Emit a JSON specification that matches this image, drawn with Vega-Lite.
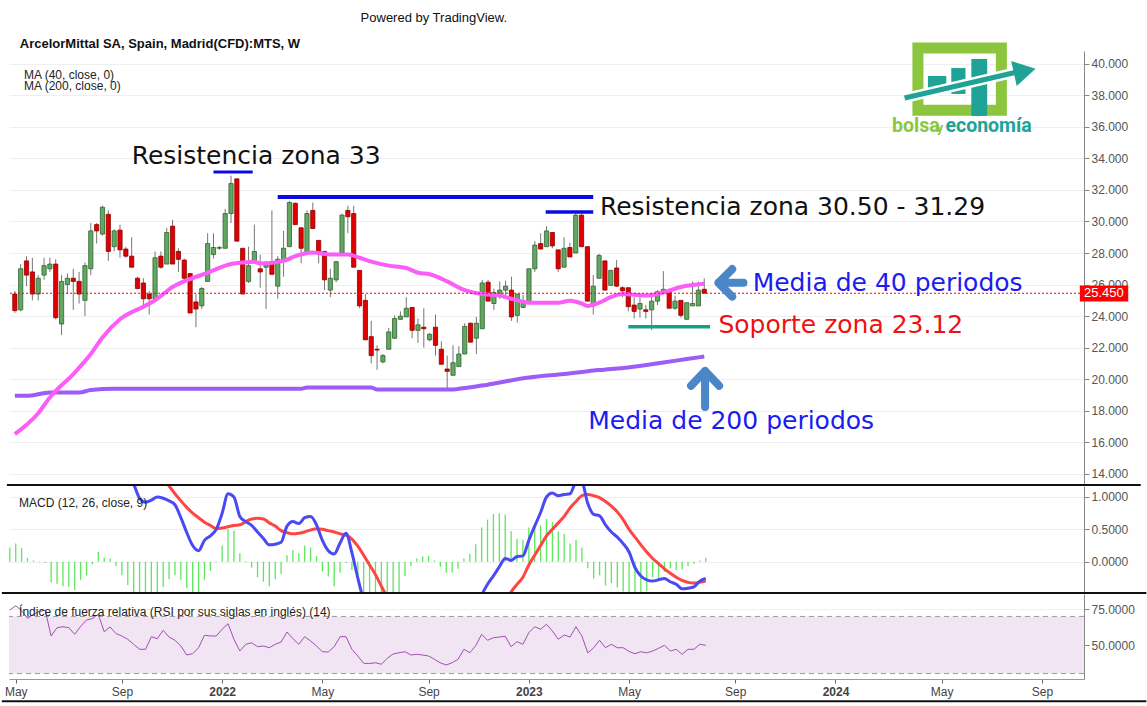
{
"$schema": "https://vega.github.io/schema/vega-lite/v6.json",
"background": "white",
"padding": {"left": 0, "top": 11, "right": 0, "bottom": 5},
"spacing": 0,
"config": {
  "view": {"stroke": null},
  "axis": {"labelFont": "Liberation Sans", "labelFontSize": 12, "labelColor": "#555555", "gridColor": "#efefef", "domainColor": "#888888", "tickColor": "#888888", "labelPadding": 2, "tickSize": 5, "title": null, "labelOverlap": false},
  "text": {"font": "Liberation Sans"}
},
"datasets": {
"w": [
{"d":"2021-04-26","o":25.4,"h":25.6,"l":24.2,"c":24.35,"macd":2.02,"sig":1.80,"hist":0.22,"rsi":74.5},
{"d":"2021-05-03","o":24.4,"h":27.3,"l":24.3,"c":27.0,"macd":2.13,"sig":1.85,"hist":0.28,"rsi":77.5},
{"d":"2021-05-10","o":27.5,"h":27.8,"l":25.9,"c":26.6,"macd":2.11,"sig":1.90,"hist":0.21,"rsi":74.0},
{"d":"2021-05-17","o":26.8,"h":27.7,"l":25.0,"c":25.4,"macd":2.01,"sig":1.95,"hist":0.06,"rsi":68.7},
{"d":"2021-05-24","o":25.4,"h":26.6,"l":25.0,"c":26.4,"macd":1.99,"sig":1.97,"hist":0.02,"rsi":71.5},
{"d":"2021-05-31","o":26.6,"h":27.7,"l":26.3,"c":27.2,"macd":1.97,"sig":1.98,"hist":-0.01,"rsi":73.5},
{"d":"2021-06-07","o":27.0,"h":27.7,"l":26.8,"c":27.3,"macd":1.96,"sig":1.98,"hist":-0.02,"rsi":74.3},
{"d":"2021-06-14","o":27.3,"h":27.6,"l":23.8,"c":23.9,"macd":1.63,"sig":1.95,"hist":-0.32,"rsi":56.3},
{"d":"2021-06-21","o":23.5,"h":26.6,"l":22.8,"c":26.2,"macd":1.58,"sig":1.92,"hist":-0.34,"rsi":62.1},
{"d":"2021-06-28","o":26.0,"h":26.7,"l":25.4,"c":26.4,"macd":1.50,"sig":1.88,"hist":-0.38,"rsi":62.8},
{"d":"2021-07-05","o":26.4,"h":27.0,"l":24.4,"c":26.2,"macd":1.45,"sig":1.84,"hist":-0.39,"rsi":62.1},
{"d":"2021-07-12","o":26.2,"h":26.8,"l":24.8,"c":25.4,"macd":1.36,"sig":1.80,"hist":-0.44,"rsi":57.5},
{"d":"2021-07-19","o":25.0,"h":27.4,"l":24.0,"c":27.2,"macd":1.50,"sig":1.78,"hist":-0.28,"rsi":63.0},
{"d":"2021-07-26","o":27.0,"h":29.9,"l":26.6,"c":29.4,"macd":1.56,"sig":1.77,"hist":-0.21,"rsi":67.5},
{"d":"2021-08-02","o":29.8,"h":29.9,"l":28.6,"c":29.4,"macd":1.73,"sig":1.77,"hist":-0.04,"rsi":68.5},
{"d":"2021-08-09","o":29.2,"h":31.0,"l":29.1,"c":30.9,"macd":1.93,"sig":1.78,"hist":0.15,"rsi":71.5},
{"d":"2021-08-16","o":30.45,"h":30.7,"l":27.5,"c":28.1,"macd":1.85,"sig":1.79,"hist":0.06,"rsi":59.3},
{"d":"2021-08-23","o":28.4,"h":29.5,"l":28.1,"c":29.4,"macd":1.85,"sig":1.80,"hist":0.05,"rsi":62.6},
{"d":"2021-08-30","o":29.45,"h":29.8,"l":27.7,"c":28.2,"macd":1.73,"sig":1.80,"hist":-0.07,"rsi":58.0},
{"d":"2021-09-06","o":28.25,"h":28.4,"l":27.7,"c":27.8,"macd":1.57,"sig":1.78,"hist":-0.21,"rsi":56.3},
{"d":"2021-09-13","o":27.8,"h":29.0,"l":27.1,"c":27.1,"macd":1.39,"sig":1.75,"hist":-0.36,"rsi":54.0},
{"d":"2021-09-20","o":26.4,"h":26.5,"l":25.7,"c":25.75,"macd":1.20,"sig":1.65,"hist":-0.55,"rsi":50.5},
{"d":"2021-09-27","o":26.1,"h":26.4,"l":24.5,"c":25.1,"macd":0.98,"sig":1.58,"hist":-0.6,"rsi":47.0},
{"d":"2021-10-04","o":25.4,"h":25.6,"l":24.1,"c":25.1,"macd":0.92,"sig":1.50,"hist":-0.6,"rsi":47.0},
{"d":"2021-10-11","o":25.1,"h":28.1,"l":25.1,"c":27.7,"macd":0.95,"sig":1.45,"hist":-0.6,"rsi":55.8},
{"d":"2021-10-18","o":27.8,"h":28.1,"l":27.0,"c":27.1,"macd":1.00,"sig":1.38,"hist":-0.55,"rsi":54.4},
{"d":"2021-10-25","o":27.3,"h":29.6,"l":27.3,"c":29.3,"macd":0.98,"sig":1.28,"hist":-0.39,"rsi":60.3},
{"d":"2021-11-01","o":29.7,"h":30.1,"l":27.3,"c":27.3,"macd":0.94,"sig":1.17,"hist":-0.27,"rsi":55.6},
{"d":"2021-11-08","o":28.1,"h":28.3,"l":26.8,"c":27.6,"macd":0.88,"sig":1.05,"hist":-0.21,"rsi":53.3},
{"d":"2021-11-15","o":27.55,"h":27.65,"l":26.2,"c":26.4,"macd":0.68,"sig":0.94,"hist":-0.28,"rsi":49.3},
{"d":"2021-11-22","o":26.7,"h":26.7,"l":24.2,"c":24.2,"macd":0.45,"sig":0.84,"hist":-0.41,"rsi":43.0},
{"d":"2021-11-29","o":24.9,"h":25.4,"l":23.3,"c":24.45,"macd":0.25,"sig":0.75,"hist":-0.55,"rsi":43.9},
{"d":"2021-12-06","o":24.65,"h":25.85,"l":24.45,"c":25.75,"macd":0.17,"sig":0.68,"hist":-0.52,"rsi":48.1},
{"d":"2021-12-13","o":26.2,"h":29.25,"l":26.2,"c":28.6,"macd":0.33,"sig":0.61,"hist":-0.28,"rsi":56.8},
{"d":"2021-12-20","o":27.9,"h":29.25,"l":27.65,"c":28.35,"macd":0.40,"sig":0.56,"hist":-0.14,"rsi":56.3},
{"d":"2021-12-27","o":28.3,"h":28.45,"l":28.2,"c":28.35,"macd":0.50,"sig":0.51,"hist":-0.01,"rsi":56.3},
{"d":"2022-01-03","o":28.3,"h":30.8,"l":28.3,"c":30.5,"macd":0.75,"sig":0.52,"hist":0.25,"rsi":61.0},
{"d":"2022-01-10","o":30.5,"h":32.9,"l":29.9,"c":32.4,"macd":1.05,"sig":0.54,"hist":0.50,"rsi":64.9},
{"d":"2022-01-17","o":32.7,"h":32.7,"l":28.75,"c":28.75,"macd":1.00,"sig":0.56,"hist":0.48,"rsi":54.0},
{"d":"2022-01-24","o":28.3,"h":28.3,"l":25.4,"c":25.4,"macd":0.70,"sig":0.57,"hist":0.13,"rsi":45.8},
{"d":"2022-01-31","o":26.2,"h":28.4,"l":26.1,"c":27.2,"macd":0.62,"sig":0.62,"hist":0.01,"rsi":50.5},
{"d":"2022-02-07","o":27.5,"h":29.8,"l":27.35,"c":28.1,"macd":0.56,"sig":0.66,"hist":-0.09,"rsi":51.6},
{"d":"2022-02-14","o":27.0,"h":27.9,"l":25.8,"c":26.8,"macd":0.46,"sig":0.67,"hist":-0.24,"rsi":48.8},
{"d":"2022-02-21","o":27.1,"h":27.5,"l":24.45,"c":27.3,"macd":0.36,"sig":0.66,"hist":-0.31,"rsi":49.3},
{"d":"2022-02-28","o":27.45,"h":30.7,"l":26.65,"c":26.65,"macd":0.26,"sig":0.60,"hist":-0.38,"rsi":48.1},
{"d":"2022-03-07","o":25.9,"h":27.8,"l":25.1,"c":27.6,"macd":0.27,"sig":0.55,"hist":-0.27,"rsi":50.5},
{"d":"2022-03-14","o":27.55,"h":29.4,"l":26.5,"c":28.3,"macd":0.30,"sig":0.48,"hist":-0.19,"rsi":52.1},
{"d":"2022-03-21","o":28.4,"h":31.3,"l":28.4,"c":31.2,"macd":0.55,"sig":0.45,"hist":0.10,"rsi":59.1},
{"d":"2022-03-28","o":31.15,"h":31.2,"l":29.8,"c":29.8,"macd":0.62,"sig":0.43,"hist":0.18,"rsi":54.4},
{"d":"2022-04-04","o":29.6,"h":29.6,"l":27.35,"c":28.3,"macd":0.59,"sig":0.44,"hist":0.13,"rsi":50.5},
{"d":"2022-04-11","o":28.0,"h":30.7,"l":28.0,"c":30.5,"macd":0.68,"sig":0.46,"hist":0.25,"rsi":55.8},
{"d":"2022-04-18","o":30.7,"h":31.2,"l":29.55,"c":29.55,"macd":0.70,"sig":0.49,"hist":0.22,"rsi":52.8},
{"d":"2022-04-25","o":28.8,"h":28.8,"l":27.35,"c":28.1,"macd":0.57,"sig":0.51,"hist":0.09,"rsi":49.3},
{"d":"2022-05-02","o":28.1,"h":28.1,"l":25.65,"c":26.3,"macd":0.33,"sig":0.50,"hist":-0.15,"rsi":45.3},
{"d":"2022-05-09","o":25.65,"h":27.0,"l":25.2,"c":26.4,"macd":0.17,"sig":0.48,"hist":-0.23,"rsi":45.1},
{"d":"2022-05-16","o":26.3,"h":27.5,"l":26.15,"c":27.45,"macd":0.12,"sig":0.46,"hist":-0.38,"rsi":48.8},
{"d":"2022-05-23","o":28.0,"h":30.5,"l":28.0,"c":30.4,"macd":0.29,"sig":0.43,"hist":-0.17,"rsi":55.8},
{"d":"2022-05-30","o":30.7,"h":31.0,"l":29.25,"c":30.3,"macd":0.44,"sig":0.41,"hist":-0.02,"rsi":55.8},
{"d":"2022-06-06","o":30.5,"h":31.0,"l":27.1,"c":27.1,"macd":0.14,"sig":0.35,"hist":-0.13,"rsi":47.0},
{"d":"2022-06-13","o":26.9,"h":26.9,"l":24.5,"c":24.65,"macd":-0.25,"sig":0.24,"hist":-0.23,"rsi":42.3},
{"d":"2022-06-20","o":25.0,"h":25.4,"l":22.5,"c":22.5,"macd":-0.6,"sig":0.10,"hist":-0.6,"rsi":37.2},
{"d":"2022-06-27","o":22.7,"h":23.7,"l":21.0,"c":21.5,"macd":-0.85,"sig":-0.05,"hist":-0.7,"rsi":37.0},
{"d":"2022-07-04","o":21.9,"h":22.15,"l":20.6,"c":21.85,"macd":-1.1,"sig":-0.2,"hist":-0.75,"rsi":37.6},
{"d":"2022-07-11","o":21.1,"h":21.6,"l":21.0,"c":21.5,"macd":-1.25,"sig":-0.38,"hist":-0.75,"rsi":36.5},
{"d":"2022-07-18","o":21.9,"h":23.25,"l":21.9,"c":23.0,"macd":-1.3,"sig":-0.55,"hist":-0.7,"rsi":40.7},
{"d":"2022-07-25","o":22.6,"h":24.05,"l":22.55,"c":23.85,"macd":-1.3,"sig":-0.72,"hist":-0.6,"rsi":43.7},
{"d":"2022-08-01","o":23.8,"h":24.3,"l":23.75,"c":24.0,"macd":-1.3,"sig":-0.83,"hist":-0.5,"rsi":44.6},
{"d":"2022-08-08","o":23.95,"h":25.2,"l":23.95,"c":24.5,"macd":-1.14,"sig":-0.92,"hist":-0.22,"rsi":45.3},
{"d":"2022-08-15","o":24.55,"h":24.55,"l":22.6,"c":23.1,"macd":-1.04,"sig":-0.97,"hist":-0.07,"rsi":43.0},
{"d":"2022-08-22","o":23.1,"h":23.85,"l":22.3,"c":23.45,"macd":-0.95,"sig":-1.0,"hist":0.05,"rsi":43.5},
{"d":"2022-08-29","o":23.3,"h":24.5,"l":22.0,"c":23.2,"macd":-0.94,"sig":-1.02,"hist":0.08,"rsi":43.0},
{"d":"2022-09-05","o":22.5,"h":22.95,"l":22.4,"c":22.85,"macd":-0.93,"sig":-1.02,"hist":0.09,"rsi":42.3},
{"d":"2022-09-12","o":23.3,"h":24.1,"l":21.5,"c":22.15,"macd":-1.0,"sig":-1.02,"hist":0.02,"rsi":40.0},
{"d":"2022-09-19","o":21.9,"h":22.4,"l":20.95,"c":20.95,"macd":-1.1,"sig":-1.02,"hist":-0.08,"rsi":37.5},
{"d":"2022-09-26","o":20.65,"h":21.5,"l":19.4,"c":20.5,"macd":-1.19,"sig":-1.02,"hist":-0.17,"rsi":36.0},
{"d":"2022-10-03","o":20.25,"h":22.15,"l":20.25,"c":21.05,"macd":-1.19,"sig":-1.02,"hist":-0.17,"rsi":37.6},
{"d":"2022-10-10","o":20.8,"h":22.1,"l":20.8,"c":21.6,"macd":-1.13,"sig":-1.02,"hist":-0.11,"rsi":40.0},
{"d":"2022-10-17","o":21.6,"h":23.55,"l":21.6,"c":23.35,"macd":-0.98,"sig":-1.03,"hist":0.05,"rsi":47.0},
{"d":"2022-10-24","o":23.55,"h":23.6,"l":22.35,"c":22.35,"macd":-0.9,"sig":-1.03,"hist":0.12,"rsi":44.6},
{"d":"2022-10-31","o":22.6,"h":23.95,"l":21.6,"c":23.55,"macd":-0.76,"sig":-1.03,"hist":0.27,"rsi":49.5},
{"d":"2022-11-07","o":23.2,"h":26.3,"l":23.2,"c":26.1,"macd":-0.52,"sig":-1.05,"hist":0.53,"rsi":57.5},
{"d":"2022-11-14","o":26.15,"h":26.3,"l":24.95,"c":24.95,"macd":-0.35,"sig":-1.0,"hist":0.65,"rsi":53.3},
{"d":"2022-11-21","o":24.8,"h":25.75,"l":24.4,"c":25.5,"macd":-0.22,"sig":-0.95,"hist":0.74,"rsi":55.1},
{"d":"2022-11-28","o":25.35,"h":26.2,"l":25.1,"c":25.65,"macd":-0.08,"sig":-0.82,"hist":0.75,"rsi":55.6},
{"d":"2022-12-05","o":25.65,"h":26.25,"l":25.1,"c":25.9,"macd":0.05,"sig":-0.65,"hist":0.73,"rsi":56.1},
{"d":"2022-12-12","o":25.65,"h":26.5,"l":23.7,"c":23.95,"macd":0.02,"sig":-0.47,"hist":0.47,"rsi":48.8},
{"d":"2022-12-19","o":24.05,"h":25.4,"l":23.6,"c":25.4,"macd":0.08,"sig":-0.35,"hist":0.35,"rsi":52.3},
{"d":"2022-12-26","o":24.55,"h":25.35,"l":24.55,"c":24.8,"macd":0.09,"sig":-0.24,"hist":0.34,"rsi":50.5},
{"d":"2023-01-02","o":24.8,"h":27.0,"l":24.8,"c":27.0,"macd":0.33,"sig":-0.05,"hist":0.53,"rsi":58.6},
{"d":"2023-01-09","o":27.0,"h":28.75,"l":26.8,"c":28.5,"macd":0.55,"sig":0.10,"hist":0.60,"rsi":62.8},
{"d":"2023-01-16","o":28.6,"h":29.25,"l":28.25,"c":28.25,"macd":0.76,"sig":0.25,"hist":0.56,"rsi":61.0},
{"d":"2023-01-23","o":28.4,"h":29.7,"l":28.4,"c":29.4,"macd":1.0,"sig":0.40,"hist":0.66,"rsi":64.5},
{"d":"2023-01-30","o":29.3,"h":29.3,"l":28.3,"c":28.45,"macd":1.06,"sig":0.50,"hist":0.61,"rsi":59.8},
{"d":"2023-02-06","o":28.2,"h":28.2,"l":26.8,"c":27.0,"macd":1.02,"sig":0.60,"hist":0.47,"rsi":54.0},
{"d":"2023-02-13","o":27.1,"h":29.0,"l":27.1,"c":28.3,"macd":1.04,"sig":0.70,"hist":0.43,"rsi":57.0},
{"d":"2023-02-20","o":28.35,"h":28.65,"l":27.75,"c":27.75,"macd":1.05,"sig":0.83,"hist":0.28,"rsi":55.6},
{"d":"2023-02-27","o":28.0,"h":30.5,"l":28.0,"c":30.4,"macd":1.22,"sig":0.93,"hist":0.34,"rsi":62.8},
{"d":"2023-03-06","o":30.4,"h":30.5,"l":28.4,"c":28.4,"macd":1.22,"sig":1.02,"hist":0.22,"rsi":56.3},
{"d":"2023-03-13","o":28.4,"h":28.4,"l":24.95,"c":24.95,"macd":0.90,"sig":1.04,"hist":-0.10,"rsi":44.5},
{"d":"2023-03-20","o":24.75,"h":26.6,"l":24.1,"c":25.9,"macd":0.73,"sig":1.02,"hist":-0.26,"rsi":48.0},
{"d":"2023-03-27","o":26.4,"h":27.95,"l":26.4,"c":27.85,"macd":0.71,"sig":0.99,"hist":-0.21,"rsi":53.3},
{"d":"2023-04-03","o":27.5,"h":27.5,"l":25.65,"c":25.65,"macd":0.57,"sig":0.93,"hist":-0.37,"rsi":48.1},
{"d":"2023-04-10","o":25.95,"h":26.9,"l":25.95,"c":26.9,"macd":0.46,"sig":0.86,"hist":-0.33,"rsi":50.5},
{"d":"2023-04-17","o":27.05,"h":27.55,"l":25.85,"c":25.9,"macd":0.38,"sig":0.77,"hist":-0.40,"rsi":48.1},
{"d":"2023-04-24","o":25.8,"h":25.9,"l":25.2,"c":25.6,"macd":0.28,"sig":0.65,"hist":-0.46,"rsi":48.1},
{"d":"2023-05-01","o":25.8,"h":25.8,"l":24.3,"c":24.6,"macd":0.15,"sig":0.50,"hist":-0.5,"rsi":45.5},
{"d":"2023-05-08","o":24.7,"h":25.2,"l":23.85,"c":24.3,"macd":-0.09,"sig":0.38,"hist":-0.5,"rsi":43.9},
{"d":"2023-05-15","o":24.45,"h":25.3,"l":23.9,"c":24.8,"macd":-0.22,"sig":0.26,"hist":-0.5,"rsi":45.3},
{"d":"2023-05-22","o":24.4,"h":24.7,"l":23.85,"c":24.3,"macd":-0.28,"sig":0.15,"hist":-0.45,"rsi":44.5},
{"d":"2023-05-29","o":24.4,"h":25.3,"l":23.12,"c":24.95,"macd":-0.30,"sig":0.05,"hist":-0.24,"rsi":45.8},
{"d":"2023-06-05","o":24.95,"h":25.65,"l":24.7,"c":25.55,"macd":-0.28,"sig":-0.03,"hist":-0.26,"rsi":47.7},
{"d":"2023-06-12","o":25.55,"h":26.85,"l":25.4,"c":25.7,"macd":-0.26,"sig":-0.11,"hist":-0.16,"rsi":49.8},
{"d":"2023-06-19","o":25.6,"h":25.6,"l":24.5,"c":24.5,"macd":-0.31,"sig":-0.18,"hist":-0.10,"rsi":45.8},
{"d":"2023-06-26","o":24.5,"h":25.3,"l":24.4,"c":24.95,"macd":-0.35,"sig":-0.24,"hist":-0.13,"rsi":47.0},
{"d":"2023-07-03","o":25.0,"h":25.0,"l":23.9,"c":24.05,"macd":-0.42,"sig":-0.29,"hist":-0.12,"rsi":43.5},
{"d":"2023-07-10","o":23.8,"h":24.85,"l":23.8,"c":24.85,"macd":-0.41,"sig":-0.32,"hist":-0.07,"rsi":47.0},
{"d":"2023-07-17","o":24.65,"h":26.2,"l":24.65,"c":24.8,"macd":-0.39,"sig":-0.33,"hist":-0.03,"rsi":47.0},
{"d":"2023-07-24","o":24.65,"h":26.2,"l":24.65,"c":25.65,"macd":-0.30,"sig":-0.32,"hist":0.02,"rsi":50.5},
{"d":"2023-07-31","o":25.7,"h":26.4,"l":25.45,"c":25.45,"macd":-0.26,"sig":-0.30,"hist":0.06,"rsi":49.8}
],
"ma40": [
{"d":"2021-04-26","v":16.53},{"d":"2021-05-24","v":17.85},{"d":"2021-06-07","v":18.85},{"d":"2021-07-05","v":20.33},
{"d":"2021-07-26","v":21.6},{"d":"2021-08-09","v":22.65},{"d":"2021-08-30","v":23.8},{"d":"2021-09-27","v":24.6},
{"d":"2021-10-11","v":25.0},{"d":"2021-11-01","v":25.85},{"d":"2021-11-22","v":26.35},{"d":"2021-12-13","v":26.75},
{"d":"2022-01-10","v":27.3},{"d":"2022-01-24","v":27.4},{"d":"2022-02-07","v":27.45},{"d":"2022-02-14","v":27.33},
{"d":"2022-03-14","v":27.5},{"d":"2022-03-28","v":27.8},{"d":"2022-04-18","v":28.03},{"d":"2022-05-09","v":27.9},
{"d":"2022-05-30","v":27.9},{"d":"2022-06-13","v":27.7},{"d":"2022-06-27","v":27.45},{"d":"2022-07-18","v":27.2},
{"d":"2022-08-08","v":27.05},{"d":"2022-08-22","v":26.75},{"d":"2022-09-05","v":26.65},{"d":"2022-09-26","v":26.2},
{"d":"2022-10-17","v":25.65},{"d":"2022-11-07","v":25.4},{"d":"2022-11-28","v":25.3},{"d":"2022-12-19","v":25.0},
{"d":"2023-01-02","v":24.85},{"d":"2023-02-06","v":24.85},{"d":"2023-02-20","v":24.97},{"d":"2023-03-06","v":24.8},
{"d":"2023-03-13","v":24.65},{"d":"2023-03-27","v":24.85},{"d":"2023-04-10","v":25.2},{"d":"2023-04-24","v":25.4},
{"d":"2023-05-22","v":25.3},{"d":"2023-06-12","v":25.5},{"d":"2023-07-03","v":25.85},{"d":"2023-07-31","v":26.05}
],
"ma200": [
{"d":"2021-04-26","v":18.95},{"d":"2021-05-10","v":18.95},{"d":"2021-06-07","v":19.16},{"d":"2021-07-12","v":19.16},
{"d":"2021-07-26","v":19.32},{"d":"2021-08-23","v":19.4},{"d":"2022-01-10","v":19.4},{"d":"2022-04-04","v":19.4},
{"d":"2022-04-11","v":19.48},{"d":"2022-06-27","v":19.48},{"d":"2022-07-04","v":19.35},{"d":"2022-10-03","v":19.35},
{"d":"2022-10-17","v":19.45},{"d":"2022-11-07","v":19.6},{"d":"2022-11-28","v":19.8},{"d":"2023-01-02","v":20.11},
{"d":"2023-02-13","v":20.33},{"d":"2023-03-27","v":20.58},{"d":"2023-05-01","v":20.75},{"d":"2023-06-12","v":21.06},
{"d":"2023-07-10","v":21.28},{"d":"2023-07-31","v":21.44}
]
},
"vconcat": [
{
"width": 1075, "height": 434,
"resolve": {"axis": {"y": "independent"}},
"layer": [
{"data": {"name": "w"}, "mark": {"type": "rule", "color": "#777777", "strokeWidth": 1, "clip": true},
 "encoding": {
  "x": {"field": "d", "type": "temporal", "axis": null, "scale": {"domain": [{"year":2021,"month":4,"date":25,"utc":true},{"year":2024,"month":10,"date":22,"utc":true}]}},
  "y": {"field": "l", "type": "quantitative", "title": null, "scale": {"domain": [13.3, 40.8], "nice": false, "zero": false},
        "axis": {"orient": "right", "values": [14,16,18,20,22,24,26,28,30,32,34,36,38,40], "format": ".3f", "grid": true, "title": null, "labelOverlap": false}},
  "y2": {"field": "h"}}},
{"data": {"name": "w"}, "mark": {"type": "bar", "width": 4.2, "strokeWidth": 0.8, "clip": true},
 "encoding": {
  "x": {"field": "d", "type": "temporal", "axis": null},
  "y": {"field": "o", "type": "quantitative", "axis": null},
  "y2": {"field": "c"},
  "fill": {"condition": {"test": "datum.c >= datum.o", "value": "#62a862"}, "value": "#e00000"},
  "stroke": {"condition": {"test": "datum.c >= datum.o", "value": "#2f632f"}, "value": "#8c0000"}}},
{"data": {"name": "ma200"}, "mark": {"type": "line", "color": "#9b5cf8", "strokeWidth": 4, "interpolate": "monotone", "clip": true},
 "encoding": {"x": {"field": "d", "type": "temporal", "axis": null}, "y": {"field": "v", "type": "quantitative", "axis": null}}},
{"data": {"name": "ma40"}, "mark": {"type": "line", "color": "#fb5ef7", "strokeWidth": 4, "interpolate": "monotone", "clip": true},
 "encoding": {"x": {"field": "d", "type": "temporal", "axis": null}, "y": {"field": "v", "type": "quantitative", "axis": null}}},
{"data": {"values": [{}]}, "mark": {"type": "rule", "color": "#ff0000", "strokeWidth": 1, "strokeDash": [2, 2]},
 "encoding": {"y": {"datum": 25.45, "type": "quantitative", "axis": null}}},
{"data": {"values": [{}]}, "mark": {"type": "rect", "color": "#ff0000"},
 "encoding": {"x": {"datum": {"year":2024,"month":10,"date":23,"utc":true}, "type": "temporal", "axis": null},
   "x2": {"datum": {"year":2024,"month":12,"date":20,"utc":true}},
   "y": {"datum": 24.93, "type": "quantitative", "axis": null}, "y2": {"datum": 25.94}}},
{"data": {"values": [{}]}, "mark": {"type": "text", "text": "25.450", "color": "white", "align": "left", "baseline": "middle", "fontSize": 13, "font": "Liberation Sans"},
 "encoding": {"x": {"datum": {"year":2024,"month":10,"date":28,"utc":true}, "type": "temporal", "axis": null},
   "y": {"datum": 25.45, "type": "quantitative", "axis": null}}},
{"data": {"values": [{}]}, "mark": {"type": "rule", "color": "#0a0ae6", "strokeWidth": 3},
 "encoding": {"x": {"datum": {"year":2021,"month":12,"date":20,"utc":true}, "type": "temporal", "axis": null},
   "x2": {"datum": {"year":2022,"month":2,"date":5,"utc":true}}, "y": {"datum": 33.14, "type": "quantitative", "axis": null}}},
{"data": {"values": [{}]}, "mark": {"type": "rule", "color": "#0a0ae6", "strokeWidth": 4},
 "encoding": {"x": {"datum": {"year":2022,"month":3,"date":7,"utc":true}, "type": "temporal", "axis": null},
   "x2": {"datum": {"year":2023,"month":3,"date":20,"utc":true}}, "y": {"datum": 31.55, "type": "quantitative", "axis": null}}},
{"data": {"values": [{}]}, "mark": {"type": "rule", "color": "#0a0ae6", "strokeWidth": 3.5},
 "encoding": {"x": {"datum": {"year":2023,"month":1,"date":22,"utc":true}, "type": "temporal", "axis": null},
   "x2": {"datum": {"year":2023,"month":3,"date":20,"utc":true}}, "y": {"datum": 30.6, "type": "quantitative", "axis": null}}},
{"data": {"values": [{}]}, "mark": {"type": "rule", "color": "#16a085", "strokeWidth": 3.5},
 "encoding": {"x": {"datum": {"year":2023,"month":5,"date":1,"utc":true}, "type": "temporal", "axis": null},
   "x2": {"datum": {"year":2023,"month":8,"date":7,"utc":true}}, "y": {"datum": 23.32, "type": "quantitative", "axis": null}}},
{"data": {"values": [{}]}, "mark": {"type": "text", "text": "Resistencia zona 33", "align": "left", "baseline": "alphabetic", "font": "DejaVu Sans", "fontSize": 25, "color": "#111111"},
 "encoding": {"x": {"datum": {"year":2021,"month":9,"date":13,"utc":true}, "type": "temporal", "axis": null}, "y": {"datum": 33.64, "type": "quantitative", "axis": null}}},
{"data": {"values": [{}]}, "mark": {"type": "text", "text": "Resistencia zona 30.50 - 31.29", "align": "left", "baseline": "alphabetic", "font": "DejaVu Sans", "fontSize": 25, "color": "#111111"},
 "encoding": {"x": {"datum": {"year":2023,"month":3,"date":28,"utc":true}, "type": "temporal", "axis": null}, "y": {"datum": 30.41, "type": "quantitative", "axis": null}}},
{"data": {"values": [{}]}, "mark": {"type": "text", "text": "Media de 40 periodos", "align": "left", "baseline": "alphabetic", "font": "DejaVu Sans", "fontSize": 25, "color": "#1c1cf0"},
 "encoding": {"x": {"datum": {"year":2023,"month":9,"date":27,"utc":true}, "type": "temporal", "axis": null}, "y": {"datum": 25.6, "type": "quantitative", "axis": null}}},
{"data": {"values": [{}]}, "mark": {"type": "text", "text": "Soporte zona 23.12", "align": "left", "baseline": "alphabetic", "font": "DejaVu Sans", "fontSize": 25, "color": "#ee1111"},
 "encoding": {"x": {"datum": {"year":2023,"month":8,"date":17,"utc":true}, "type": "temporal", "axis": null}, "y": {"datum": 22.9, "type": "quantitative", "axis": null}}},
{"data": {"values": [{}]}, "mark": {"type": "text", "text": "Media de 200 periodos", "align": "left", "baseline": "alphabetic", "font": "DejaVu Sans", "fontSize": 25, "color": "#1c1cf0"},
 "encoding": {"x": {"datum": {"year":2023,"month":3,"date":14,"utc":true}, "type": "temporal", "axis": null}, "y": {"datum": 16.84, "type": "quantitative", "axis": null}}},
{"data": {"values": [{}]}, "mark": {"type": "point", "shape": "M 1 0 L -1 0 M 0.1 -1.1 L -1 0 L 0.1 1.1", "size": 625, "filled": false, "opacity": 1, "stroke": "#4a86c8", "strokeWidth": 8, "strokeCap": "round", "strokeJoin": "round"},
 "encoding": {"x": {"datum": {"year":2023,"month":9,"date":1,"utc":true}, "type": "temporal", "axis": null}, "y": {"datum": 26.11, "type": "quantitative", "axis": null}}},
{"data": {"values": [{}]}, "mark": {"type": "point", "shape": "M 0 1 L 0 -1 M -0.78 -0.17 L 0 -1 L 0.78 -0.17", "size": 1296, "filled": false, "opacity": 1, "stroke": "#4a86c8", "strokeWidth": 8, "strokeCap": "round", "strokeJoin": "round"},
 "encoding": {"x": {"datum": {"year":2023,"month":8,"date":1,"utc":true}, "type": "temporal", "axis": null}, "y": {"datum": 19.39, "type": "quantitative", "axis": null}}},
{"data": {"values": [{}]}, "mark": {"type": "rect", "filled": false, "stroke": "#8cc63e", "strokeWidth": 11},
 "encoding": {"x": {"datum": {"year":2024,"month":4,"date":12,"utc":true}, "type": "temporal", "axis": null}, "x2": {"datum": {"year":2024,"month":7,"date":21,"utc":true}},
   "y": {"datum": 40.99, "type": "quantitative", "axis": null}, "y2": {"datum": 37.05}}},
{"data": {"values": [{}]}, "mark": {"type": "rect", "color": "#1ea396"},
 "encoding": {"x": {"datum": {"year":2024,"month":4,"date":24,"utc":true}, "type": "temporal", "axis": null}, "x2": {"datum": {"year":2024,"month":5,"date":16,"utc":true}},
   "y": {"datum": 39.22, "type": "quantitative", "axis": null}, "y2": {"datum": 38.08}}},
{"data": {"values": [{}]}, "mark": {"type": "rect", "color": "#1ea396"},
 "encoding": {"x": {"datum": {"year":2024,"month":5,"date":22,"utc":true}, "type": "temporal", "axis": null}, "x2": {"datum": {"year":2024,"month":6,"date":8,"utc":true}},
   "y": {"datum": 39.72, "type": "quantitative", "axis": null}, "y2": {"datum": 38.08}}},
{"data": {"values": [{}]}, "mark": {"type": "rect", "color": "#1ea396"},
 "encoding": {"x": {"datum": {"year":2024,"month":6,"date":15,"utc":true}, "type": "temporal", "axis": null}, "x2": {"datum": {"year":2024,"month":7,"date":4,"utc":true}},
   "y": {"datum": 40.29, "type": "quantitative", "axis": null}, "y2": {"datum": 36.68}}},
{"data": {"values": [{}]}, "mark": {"type": "rule", "color": "white", "strokeWidth": 10},
 "encoding": {"x": {"datum": {"year":2024,"month":3,"date":27,"utc":true}, "type": "temporal", "axis": null}, "x2": {"datum": {"year":2024,"month":8,"date":9,"utc":true}},
   "y": {"datum": 37.82, "type": "quantitative", "axis": null}, "y2": {"datum": 39.47}}},
{"data": {"values": [{}]}, "mark": {"type": "rule", "color": "#1ea396", "strokeWidth": 5},
 "encoding": {"x": {"datum": {"year":2024,"month":3,"date":27,"utc":true}, "type": "temporal", "axis": null}, "x2": {"datum": {"year":2024,"month":8,"date":9,"utc":true}},
   "y": {"datum": 37.82, "type": "quantitative", "axis": null}, "y2": {"datum": 39.47}}},
{"data": {"values": [{}]}, "mark": {"type": "point", "shape": "triangle-right", "size": 650, "filled": true, "opacity": 1, "color": "#1ea396", "angle": -12.5},
 "encoding": {"x": {"datum": {"year":2024,"month":8,"date":18,"utc":true}, "type": "temporal", "axis": null}, "y": {"datum": 39.53, "type": "quantitative", "axis": null}}},
{"data": {"values": [{}]}, "mark": {"type": "text", "text": "bolsa", "align": "left", "baseline": "alphabetic", "font": "Roboto", "fontWeight": "bold", "fontSize": 19.5, "color": "#8cc63e"},
 "encoding": {"x": {"datum": {"year":2024,"month":3,"date":12,"utc":true}, "type": "temporal", "axis": null}, "y": {"datum": 35.67, "type": "quantitative", "axis": null}}},
{"data": {"values": [{}]}, "mark": {"type": "text", "text": "y", "align": "left", "baseline": "alphabetic", "font": "Roboto", "fontWeight": "bold", "fontSize": 12, "color": "#8cc63e"},
 "encoding": {"x": {"datum": {"year":2024,"month":5,"date":5,"utc":true}, "type": "temporal", "axis": null}, "y": {"datum": 35.67, "type": "quantitative", "axis": null}}},
{"data": {"values": [{}]}, "mark": {"type": "text", "text": "economía", "align": "left", "baseline": "alphabetic", "font": "Roboto", "fontWeight": "bold", "fontSize": 19.5, "color": "#1ea396"},
 "encoding": {"x": {"datum": {"year":2024,"month":5,"date":15,"utc":true}, "type": "temporal", "axis": null}, "y": {"datum": 35.67, "type": "quantitative", "axis": null}}},
{"data": {"values": [{}]}, "mark": {"type": "text", "text": "Powered by TradingView.", "align": "center", "baseline": "alphabetic", "font": "Liberation Sans", "fontSize": 13, "color": "#111111"},
 "encoding": {"x": {"datum": {"year":2022,"month":9,"date":10,"utc":true}, "type": "temporal", "axis": null}, "y": {"datum": 42.66, "type": "quantitative", "axis": null}}},
{"data": {"values": [{}]}, "mark": {"type": "text", "text": "ArcelorMittal SA, Spain, Madrid(CFD):MTS, W", "align": "left", "baseline": "alphabetic", "font": "Liberation Sans", "fontWeight": "bold", "fontSize": 13, "color": "#111111"},
 "encoding": {"x": {"datum": {"year":2021,"month":5,"date":2,"utc":true}, "type": "temporal", "axis": null}, "y": {"datum": 40.99, "type": "quantitative", "axis": null}}},
{"data": {"values": [{}]}, "mark": {"type": "text", "text": "MA (40, close, 0)", "align": "left", "baseline": "alphabetic", "font": "Liberation Sans", "fontSize": 12, "color": "#222222"},
 "encoding": {"x": {"datum": {"year":2021,"month":5,"date":7,"utc":true}, "type": "temporal", "axis": null}, "y": {"datum": 39.05, "type": "quantitative", "axis": null}}},
{"data": {"values": [{}]}, "mark": {"type": "text", "text": "MA (200, close, 0)", "align": "left", "baseline": "alphabetic", "font": "Liberation Sans", "fontSize": 12, "color": "#222222"},
 "encoding": {"x": {"datum": {"year":2021,"month":5,"date":7,"utc":true}, "type": "temporal", "axis": null}, "y": {"datum": 38.35, "type": "quantitative", "axis": null}}},
{"data": {"values": [{}]}, "mark": {"type": "rule", "color": "#111111", "strokeWidth": 2},
 "encoding": {"x": {"datum": {"year":2021,"month":4,"date":16,"hours":12,"utc":true}, "type": "temporal", "axis": null}, "x2": {"datum": {"year":2025,"month":1,"date":4,"utc":true}},
   "y": {"datum": 13.3, "type": "quantitative", "axis": null}}}
]
},
{
"width": 1075, "height": 107,
"layer": [
{"data": {"name": "w"}, "mark": {"type": "rule", "color": "#5ee65e", "strokeWidth": 1.3, "clip": true},
 "encoding": {
  "x": {"field": "d", "type": "temporal", "axis": null, "scale": {"domain": [{"year":2021,"month":4,"date":25,"utc":true},{"year":2024,"month":10,"date":22,"utc":true}]}},
  "y": {"field": "hist", "type": "quantitative", "title": null, "scale": {"domain": [-0.484, 1.17], "nice": false, "zero": false},
        "axis": {"orient": "right", "values": [0, 0.5, 1], "format": ".4f", "grid": true, "title": null, "labelOverlap": false}},
  "y2": {"datum": 0}}},
{"data": {"name": "w"}, "mark": {"type": "line", "color": "#ff4444", "strokeWidth": 3, "clip": true, "interpolate": "monotone"},
 "encoding": {"x": {"field": "d", "type": "temporal", "axis": null}, "y": {"field": "sig", "type": "quantitative"}}},
{"data": {"name": "w"}, "mark": {"type": "line", "color": "#4a4af5", "strokeWidth": 3, "clip": true, "interpolate": "monotone"},
 "encoding": {"x": {"field": "d", "type": "temporal", "axis": null}, "y": {"field": "macd", "type": "quantitative"}}},
{"data": {"values": [{}]}, "mark": {"type": "text", "text": "MACD (12, 26, close, 9)", "align": "left", "baseline": "alphabetic", "font": "Liberation Sans", "fontSize": 12, "color": "#222222"},
 "encoding": {"x": {"datum": {"year":2021,"month":5,"date":7,"utc":true}, "type": "temporal", "axis": null}, "y": {"datum": 0.845, "type": "quantitative"}}},
{"data": {"values": [{}]}, "mark": {"type": "rule", "color": "#111111", "strokeWidth": 2},
 "encoding": {"x": {"datum": {"year":2021,"month":4,"date":16,"hours":12,"utc":true}, "type": "temporal", "axis": null}, "x2": {"datum": {"year":2025,"month":1,"date":4,"utc":true}},
   "y": {"datum": -0.484, "type": "quantitative"}}}
]
},
{
"width": 1075, "height": 85,
"layer": [
{"data": {"values": [{}]}, "mark": {"type": "rect", "color": "#f1e4f3"},
 "encoding": {
  "x": {"datum": {"year":2021,"month":4,"date":25,"utc":true}, "type": "temporal",
        "scale": {"domain": [{"year":2021,"month":4,"date":25,"utc":true},{"year":2024,"month":10,"date":22,"utc":true}]},
        "axis": {"orient": "bottom", "title": null, "grid": false, "labelFlush": false, "labelOverlap": false, "labelBound": false, "labelAngle": 0,
                 "values": [{"year":2021,"month":5,"date":3,"utc":true},{"year":2021,"month":9,"date":6,"utc":true},{"year":2022,"month":1,"date":3,"utc":true},{"year":2022,"month":5,"date":2,"utc":true},{"year":2022,"month":9,"date":5,"utc":true},{"year":2023,"month":1,"date":2,"utc":true},{"year":2023,"month":5,"date":1,"utc":true},{"year":2023,"month":9,"date":4,"utc":true},{"year":2024,"month":1,"date":1,"utc":true},{"year":2024,"month":5,"date":6,"utc":true},{"year":2024,"month":9,"date":2,"utc":true}],
                 "labelExpr": "utcmonth(datum.value) == 0 ? utcFormat(datum.value, '%Y') : utcFormat(datum.value, '%b')",
                 "labelFontWeight": {"condition": {"test": "utcmonth(datum.value) == 0", "value": "bold"}, "value": "normal"},
                 "labelFont": "Liberation Sans Narrow, Liberation Sans", "labelFontSize": 12, "labelColor": "#444444",
                 "domainColor": "#999999", "tickColor": "#666666", "tickSize": 4, "labelPadding": 3}},
  "x2": {"datum": {"year":2024,"month":10,"date":22,"utc":true}},
  "y": {"datum": 30, "type": "quantitative", "title": null, "scale": {"domain": [26.2, 85.7], "nice": false, "zero": false},
        "axis": {"orient": "right", "values": [50, 75], "format": ".4f", "grid": true, "title": null, "labelOverlap": false}},
  "y2": {"datum": 70}}},
{"data": {"values": [{}]}, "mark": {"type": "rule", "color": "#999999", "strokeWidth": 1, "strokeDash": [5, 4]},
 "encoding": {"y": {"datum": 70, "type": "quantitative"}}},
{"data": {"values": [{}]}, "mark": {"type": "rule", "color": "#999999", "strokeWidth": 1, "strokeDash": [5, 4]},
 "encoding": {"y": {"datum": 30, "type": "quantitative"}}},
{"data": {"name": "w"}, "mark": {"type": "line", "color": "#a34fb5", "strokeWidth": 1, "clip": true},
 "encoding": {"x": {"field": "d", "type": "temporal"}, "y": {"field": "rsi", "type": "quantitative"}}},
{"data": {"values": [{}]}, "mark": {"type": "text", "text": "Índice de fuerza relativa (RSI por sus siglas en inglés) (14)", "align": "left", "baseline": "alphabetic", "font": "Liberation Sans", "fontSize": 12, "color": "#222222"},
 "encoding": {"x": {"datum": {"year":2021,"month":5,"date":7,"utc":true}, "type": "temporal"}, "y": {"datum": 70.3, "type": "quantitative"}}},
{"data": {"values": [{}]}, "mark": {"type": "rule", "color": "#111111", "strokeWidth": 2},
 "encoding": {"x": {"datum": {"year":2021,"month":4,"date":16,"hours":12,"utc":true}, "type": "temporal"}, "x2": {"datum": {"year":2025,"month":1,"date":4,"utc":true}},
   "y": {"datum": 10.6, "type": "quantitative"}}}
]
}
]
}
